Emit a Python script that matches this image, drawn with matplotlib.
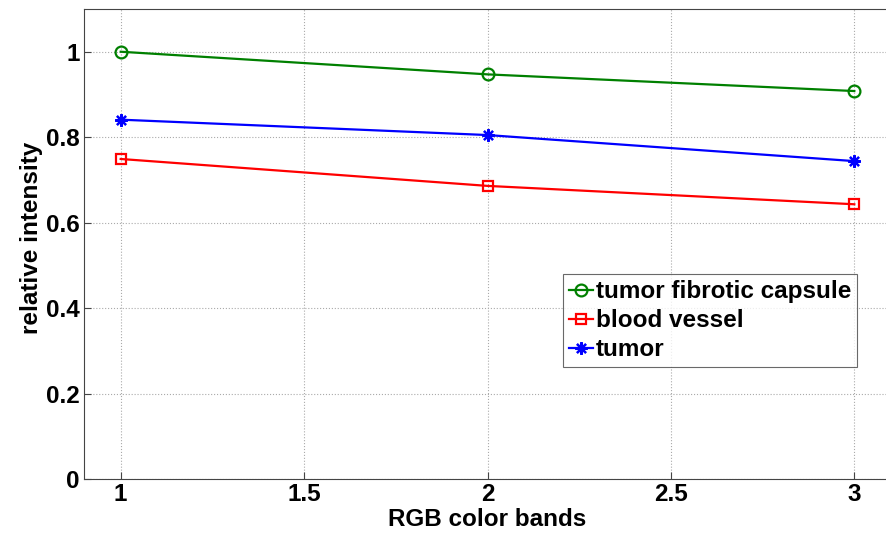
import matplotlib.pyplot as plt

# RGB bands and relative intensities
bands = [1, 2, 3]
capsule = [1.0, 0.947, 0.908]
vessel = [0.749, 0.686, 0.643]
tumor = [0.841, 0.805, 0.744]

plt.rcParams['font.family'] = ['Liberation Sans', 'DejaVu Sans']
plt.rcParams['font.weight'] = 'bold'

fig = plt.figure(figsize=(8.86, 5.33), dpi=100)
ax = fig.add_axes([84 / 886, 54 / 533, 807 / 886, 470 / 533])

ax.plot(bands, capsule, color='#008000', lw=1.6, marker='o', ms=8.5, mfc='none', mew=1.6,
        label='tumor fibrotic capsule')
ax.plot(bands, vessel, color='#ff0000', lw=1.6, marker='s', ms=7.5, mfc='none', mew=1.6,
        label='blood vessel')
ax.plot(bands, tumor, color='#0000ff', lw=1.6, marker=(8, 2, 0), ms=9, mew=1.6,
        label='tumor')

ax.set_xlim(0.9, 3.1)
ax.set_ylim(0, 1.1)
ax.set_xticks([1, 1.5, 2, 2.5, 3])
ax.set_xticklabels(['1', '1.5', '2', '2.5', '3'])
ax.set_yticks([0, 0.2, 0.4, 0.6, 0.8, 1])
ax.set_yticklabels(['0', '0.2', '0.4', '0.6', '0.8', '1'])
ax.tick_params(direction='in', length=5, labelsize=17.5, color='#444444', pad=3)
ax.grid(True, ls=':', color='#aaaaaa', lw=0.8)
for s in ax.spines.values():
    s.set_color('#444444')

ax.set_xlabel('RGB color bands', fontsize=17.5, fontweight='bold', labelpad=1)
ax.set_ylabel('relative intensity', fontsize=17.5, fontweight='bold')
ax.yaxis.set_label_coords(-0.051, 0.513)

leg = ax.legend(loc='upper left', bbox_to_anchor=((563 - 84) / 807, (479 - 274) / 470),
                prop={'weight': 'bold', 'size': 17.5}, frameon=True, fancybox=False,
                handlelength=1.0, handletextpad=0.1, borderpad=0.25, labelspacing=0.25,
                borderaxespad=0)
leg.get_frame().set_edgecolor('#444444')
leg.get_frame().set_linewidth(0.8)

fig.savefig('out.png', dpi=100)
